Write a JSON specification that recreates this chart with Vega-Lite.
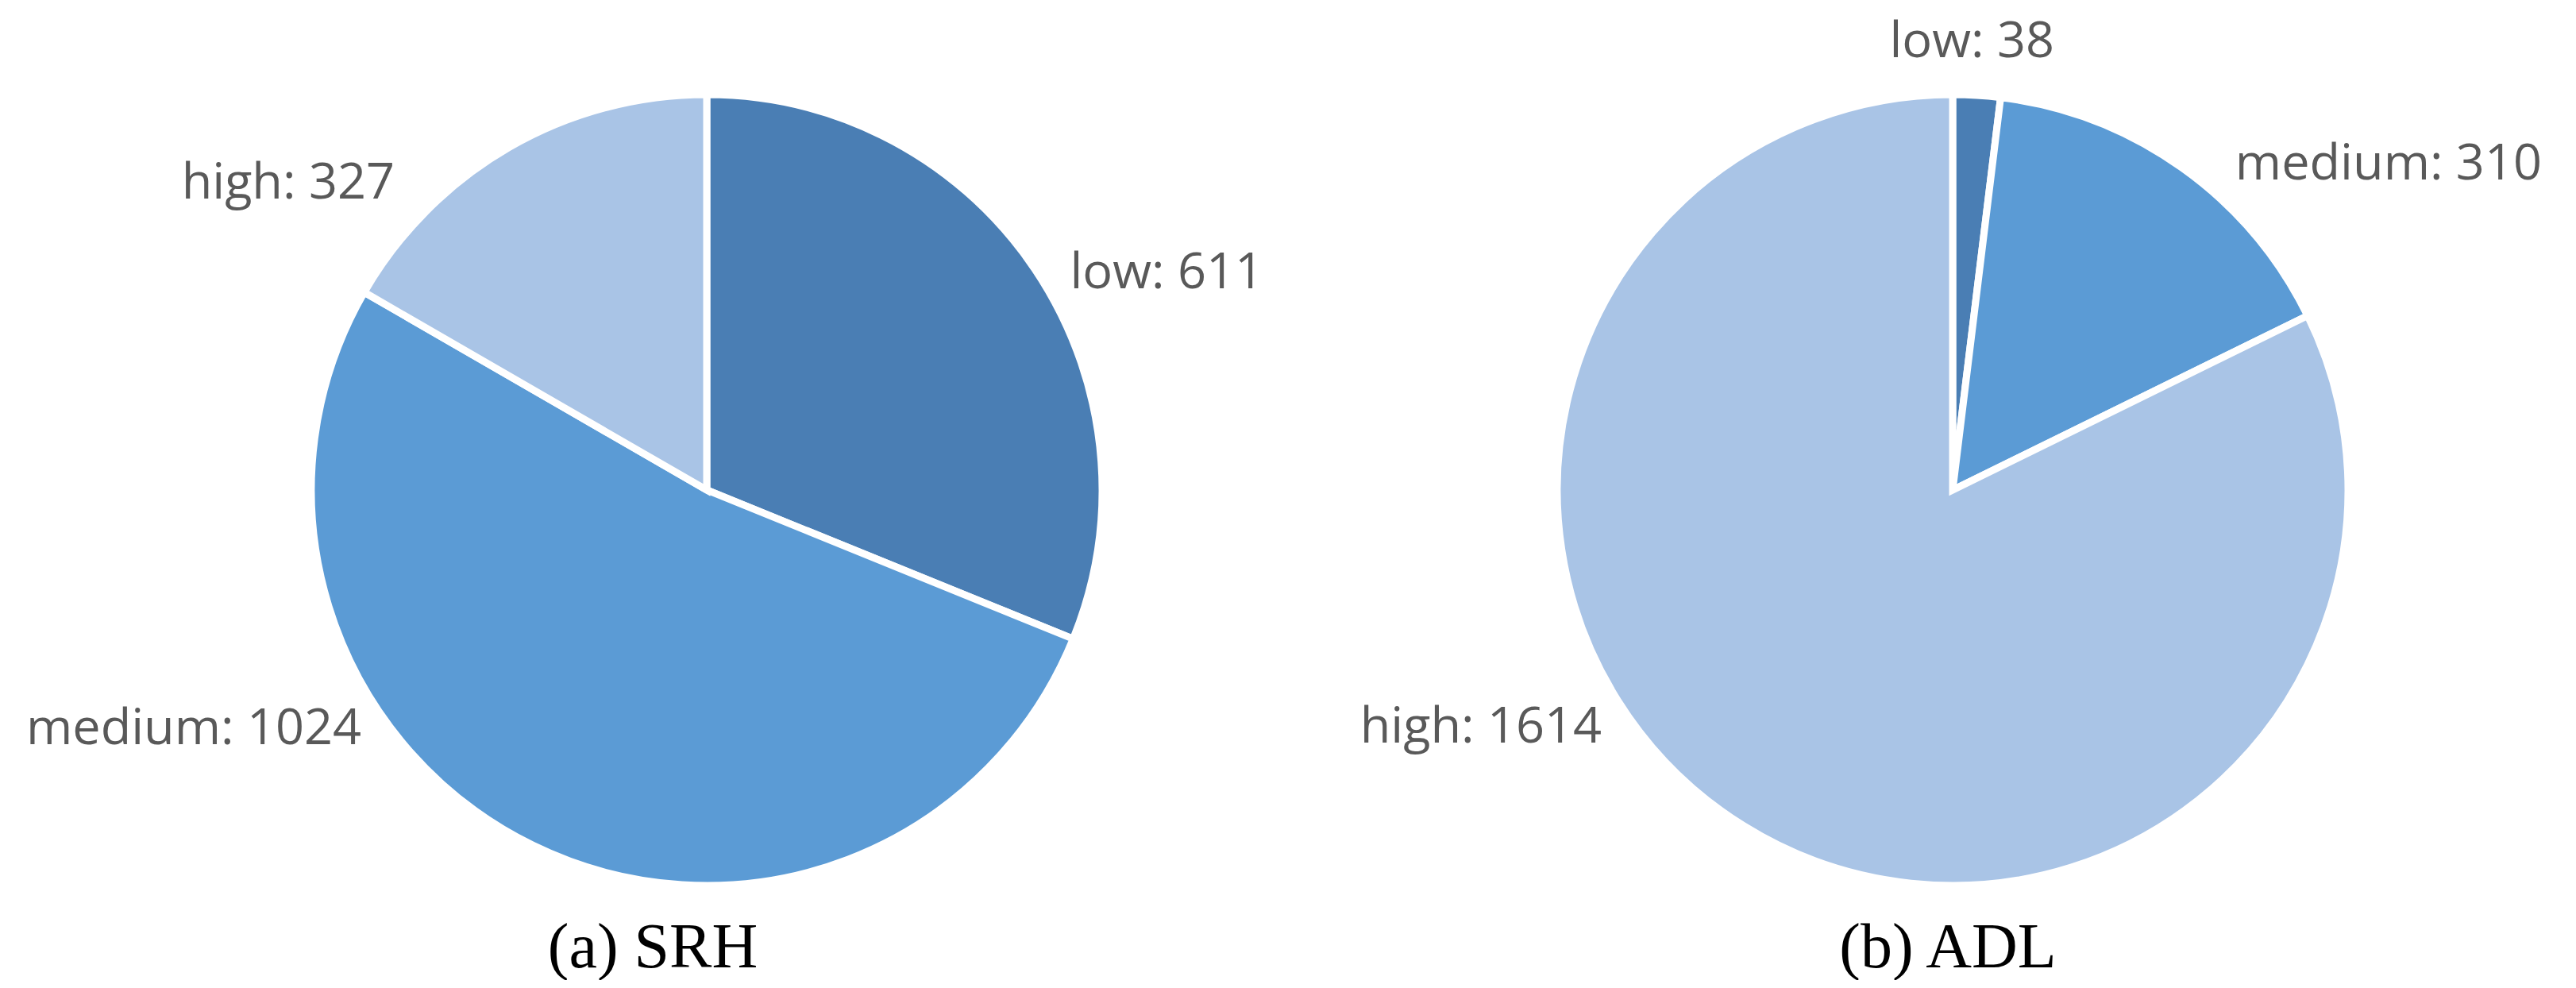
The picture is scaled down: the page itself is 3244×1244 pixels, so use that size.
{
  "$schema": "https://vega.github.io/schema/vega-lite/v6.json",
  "padding": 0,
  "background": "white",
  "spacing": 0,
  "bounds": "flush",
  "config": {"view": {"stroke": null}},
  "hconcat": [
    {
      "width": 1780,
      "height": 1234,
      "title": {"text": "(a) SRH", "orient": "bottom", "anchor": "middle", "frame": "group", "offset": -79, "dx": -68, "font": "Liberation Serif", "fontSize": 80, "fontWeight": "normal", "color": "#000000"},
      "data": {"values": [
        {"k": 1, "cat": "low", "n": 611, "label": "low: 611"},
        {"k": 2, "cat": "medium", "n": 1024, "label": "medium: 1024"},
        {"k": 3, "cat": "high", "n": 327, "label": "high: 327"}
      ]},
      "encoding": {
        "theta": {"field": "n", "type": "quantitative", "stack": true},
        "order": {"field": "k", "type": "quantitative"},
        "color": {"field": "cat", "type": "nominal", "legend": null}
      },
      "layer": [
        {"mark": {"type": "arc", "outerRadius": 498, "stroke": "white", "strokeWidth": 9},
         "encoding": {"color": {"field": "cat", "type": "nominal", "legend": null, "scale": {"domain": ["low", "medium", "high"], "range": ["#4a7eb4", "#5b9bd5", "#a9c4e6"]}}}},
        {"mark": {"type": "text", "radius": 514, "font": "Open Sans", "fontSize": 63, "align": "left", "baseline": "alphabetic", "dx": 31, "dy": 33},
         "encoding": {"text": {"condition": {"test": "datum.cat === 'low'", "field": "label"}, "value": ""},
          "color": {"field": "cat", "type": "nominal", "legend": null, "scale": {"domain": ["low", "medium", "high"], "range": ["#595959", "#595959", "#595959"]}}}},
        {"mark": {"type": "text", "radius": 380, "font": "Open Sans", "fontSize": 63, "align": "right", "baseline": "alphabetic", "dx": -268, "dy": -21},
         "encoding": {"text": {"condition": {"test": "datum.cat === 'medium'", "field": "label"}, "value": ""},
          "color": {"field": "cat", "type": "nominal", "legend": null, "scale": {"domain": ["low", "medium", "high"], "range": ["#595959", "#595959", "#595959"]}}}},
        {"mark": {"type": "text", "radius": 514, "font": "Open Sans", "fontSize": 63, "align": "right", "baseline": "alphabetic", "dx": -136, "dy": 78},
         "encoding": {"text": {"condition": {"test": "datum.cat === 'high'", "field": "label"}, "value": ""},
          "color": {"field": "cat", "type": "nominal", "legend": null, "scale": {"domain": ["low", "medium", "high"], "range": ["#595959", "#595959", "#595959"]}}}}
      ],
      "resolve": {"scale": {"color": "independent"}}
    },
    {
      "width": 1358,
      "height": 1234,
      "title": {"text": "(b) ADL", "orient": "bottom", "anchor": "middle", "frame": "group", "offset": -79, "dx": -6, "font": "Liberation Serif", "fontSize": 80, "fontWeight": "normal", "color": "#000000"},
      "data": {"values": [
        {"k": 1, "cat": "low", "n": 38, "label": "low: 38"},
        {"k": 2, "cat": "medium", "n": 310, "label": "medium: 310"},
        {"k": 3, "cat": "high", "n": 1614, "label": "high: 1614"}
      ]},
      "encoding": {
        "theta": {"field": "n", "type": "quantitative", "stack": true},
        "order": {"field": "k", "type": "quantitative"},
        "color": {"field": "cat", "type": "nominal", "legend": null}
      },
      "layer": [
        {"mark": {"type": "arc", "outerRadius": 498, "stroke": "white", "strokeWidth": 9},
         "encoding": {"color": {"field": "cat", "type": "nominal", "legend": null, "scale": {"domain": ["low", "medium", "high"], "range": ["#4a7eb4", "#5b9bd5", "#a9c4e6"]}}}},
        {"mark": {"type": "text", "radius": 514, "font": "Open Sans", "fontSize": 63, "align": "center", "baseline": "alphabetic", "dx": -7, "dy": -32},
         "encoding": {"text": {"condition": {"test": "datum.cat === 'low'", "field": "label"}, "value": ""},
          "color": {"field": "cat", "type": "nominal", "legend": null, "scale": {"domain": ["low", "medium", "high"], "range": ["#595959", "#595959", "#595959"]}}}},
        {"mark": {"type": "text", "radius": 514, "font": "Open Sans", "fontSize": 63, "align": "left", "baseline": "alphabetic", "dx": 58, "dy": 28},
         "encoding": {"text": {"condition": {"test": "datum.cat === 'medium'", "field": "label"}, "value": ""},
          "color": {"field": "cat", "type": "nominal", "legend": null, "scale": {"domain": ["low", "medium", "high"], "range": ["#595959", "#595959", "#595959"]}}}},
        {"mark": {"type": "text", "radius": 380, "font": "Open Sans", "fontSize": 63, "align": "right", "baseline": "alphabetic", "dx": -241, "dy": -5},
         "encoding": {"text": {"condition": {"test": "datum.cat === 'high'", "field": "label"}, "value": ""},
          "color": {"field": "cat", "type": "nominal", "legend": null, "scale": {"domain": ["low", "medium", "high"], "range": ["#595959", "#595959", "#595959"]}}}}
      ],
      "resolve": {"scale": {"color": "independent"}}
    }
  ]
}
